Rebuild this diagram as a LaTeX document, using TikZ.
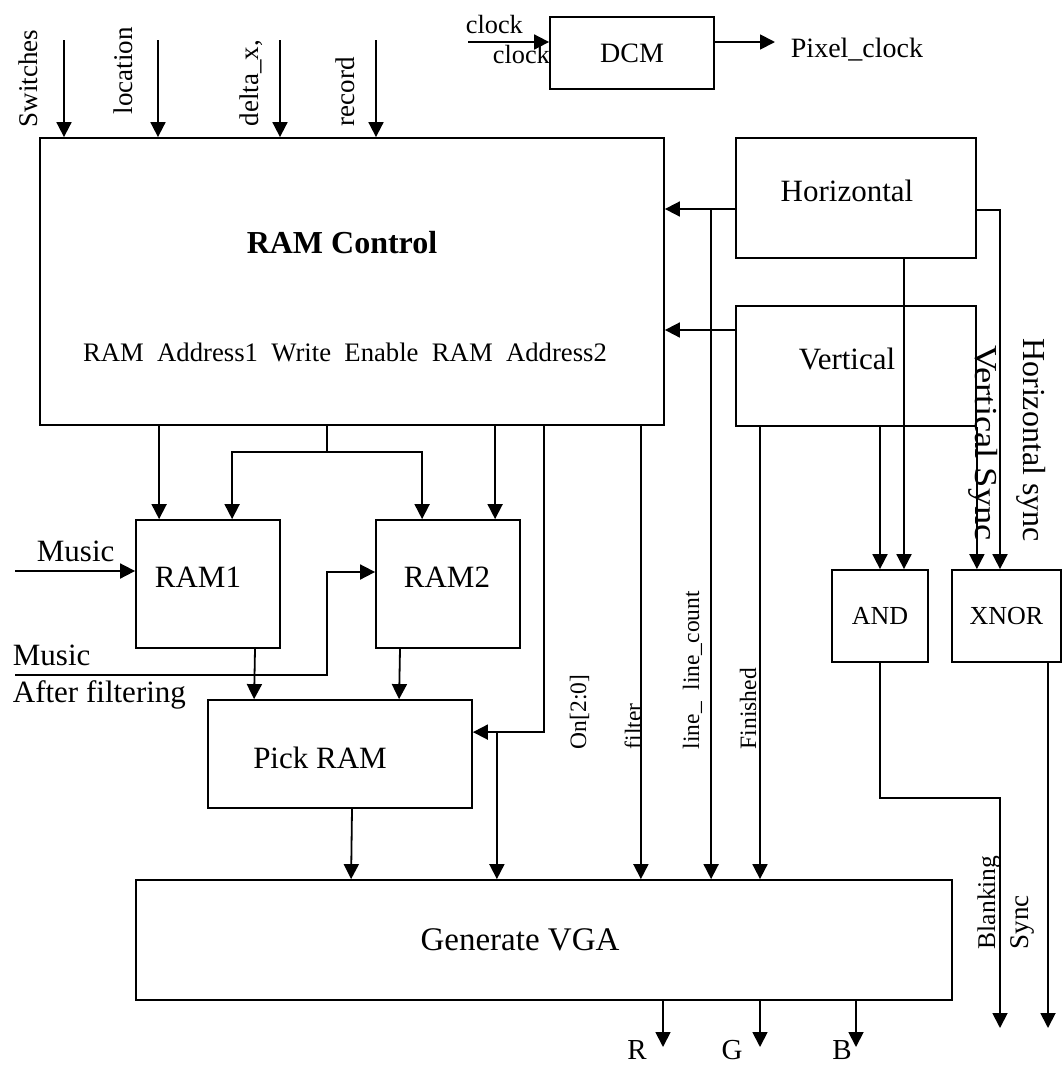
\documentclass[tikz,border=0pt]{standalone}
\usepackage{fontspec}
\setmainfont{Liberation Serif}
\usetikzlibrary{arrows.meta,calc}

\begin{document}
\begin{tikzpicture}[x=1pt,y=-1pt,>={Triangle[length=15pt,width=15pt]},line width=1.8pt,
  blk/.style={draw,line width=1.8pt,inner sep=0pt,font=\fontsize{28}{30}\selectfont},
  lbl/.style={inner sep=0pt,font=\fontsize{31}{33}\selectfont},
  sml/.style={inner sep=0pt,font=\fontsize{27}{29}\selectfont},
  tiny/.style={inner sep=0pt,font=\fontsize{23.5}{25}\selectfont}]
  \useasboundingbox (0,0) rectangle (1063,1066);

  % blocks
  \node[blk,minimum width=624pt,minimum height=287pt] (ramctl) at (352,281.5) {};
  \node[lbl,font=\fontsize{32}{34}\selectfont\bfseries] (ramtitle) at (342,243) {RAM Control};
  \node[sml,font=\fontsize{26.7}{28}\selectfont] (ramports) at (345,352) {RAM\ \ Address1\ \ Write\ \ Enable\ \ RAM\ \ Address2};
  \node[blk,minimum width=164pt,minimum height=72pt] (dcm) at (632,53) {DCM};
  \node[blk,minimum width=240pt,minimum height=120pt] (horiz) at (856,198) {};
  \node[lbl] (horiztxt) at ($(horiz)+(-9,-7)$) {Horizontal};
  \node[blk,minimum width=240pt,minimum height=120pt] (vert) at (856,366) {};
  \node[lbl] (verttxt) at ($(vert)+(-9,-7)$) {Vertical};
  \node[blk,minimum width=144pt,minimum height=128pt] (ram1) at (208,584) {};
  \node[lbl] (ram1txt) at ($(ram1)+(-10,-7)$) {RAM1};
  \node[blk,minimum width=144pt,minimum height=128pt] (ram2) at (448,584) {};
  \node[lbl] (ram2txt) at ($(ram2)+(-1,-7)$) {RAM2};
  \node[blk,minimum width=264pt,minimum height=108pt] (pick) at (340,754) {};
  \node[lbl] (picktxt) at ($(pick)+(-20,4)$) {Pick RAM};
  \node[blk,minimum width=96pt,minimum height=92pt,font=\fontsize{26}{28}\selectfont] (andg) at (880,616) {AND};
  \node[blk,minimum width=109pt,minimum height=92pt,font=\fontsize{26}{28}\selectfont] (xnor) at (1006.5,616) {XNOR};
  \node[blk,minimum width=816pt,minimum height=120pt] (vga) at (544,940) {};
  \node[lbl,font=\fontsize{33}{35}\selectfont] (vgatxt) at ($(vga)+(-24,0)$) {Generate VGA};

  % inputs of RAM Control
  \coordinate (swin) at (64,40);
  \coordinate (locin) at (158,40);
  \coordinate (dxin) at (280,40);
  \coordinate (recin) at (376,40);
  \foreach \p in {swin,locin,dxin,recin}
    \draw[->] (\p) -- (\p |- ramctl.north);
  \node[sml,rotate=90,anchor=base west] (swlbl) at (37,128) {Switches};
  \node[sml,rotate=90,anchor=base west] (loclbl) at (132,115) {location};
  \node[sml,rotate=90,anchor=base west] (dxlbl) at (258,127) {delta\_x,};
  \node[sml,rotate=90,anchor=base west] (reclbl) at (354,127) {record};

  % clock
  \coordinate (clkin) at (468,42);
  \coordinate (pixout) at (775,42);
  \draw[->] (clkin) -- (clkin -| dcm.west);
  \draw[->] (pixout -| dcm.east) -- (pixout);
  \node[sml,font=\fontsize{26.3}{28}\selectfont,anchor=base west] (clklbla) at (465,33) {clock};
  \node[sml,font=\fontsize{26.3}{28}\selectfont,anchor=base west] (clklblb) at (492,63) {clock};
  \node[blk,draw=none,anchor=base west] (pixlbl) at (790,57) {Pixel\_clock};

  % timing into RAM Control and Generate VGA
  \coordinate (hout) at ([yshift=-11pt]horiz.west);
  \coordinate (vout) at ([yshift=36pt]vert.west);
  \coordinate (lcsplit) at ($(hout)+(-24,0)$);
  \coordinate (fin) at ([xshift=-96pt]vert.south);
  \draw[->] (hout) -- (hout -| ramctl.east);
  \draw[->] (vout) -- (vout -| ramctl.east);
  \draw[->] (lcsplit) -- (lcsplit |- vga.north);
  \draw[->] (fin) -- (fin |- vga.north);

  % sync gates
  \coordinate (hsync) at ([yshift=-12pt]horiz.east);
  \draw[->] ([xshift=48pt]horiz.south) -- ([xshift=24pt]andg.north);
  \draw[->] ([xshift=24pt]vert.south) -- (andg.north);
  \draw[->] (vert.south east) -- (vert.south east |- xnor.north);
  \draw[->] (hsync) -| ([xshift=-6.5pt]xnor.north);
  \node[lbl,font=\fontsize{32}{34}\selectfont,rotate=-90] (vslbl) at (983,443) {\scalebox{1.14}[1]{Vertical Sync}};
  \node[lbl,font=\fontsize{32}{34}\selectfont,rotate=-90] (hslbl) at (1031,440) {Horizontal sync};

  \coordinate (blank) at (1000,1028);
  \coordinate (syncout) at (1048,1028);
  \draw[->] (andg.south) -- ++(0,135) -| (blank);
  \draw[->] (syncout |- xnor.south) -- (syncout);
  \node[sml,font=\fontsize{25.5}{27}\selectfont,rotate=90,anchor=base west] (blanklbl) at (995,950) {Blanking};
  \node[sml,rotate=90,anchor=base west] (synclbl) at (1028,950) {Sync};

  % RAM Control outputs
  \coordinate (we) at ($(ramctl.south west)+(288,0)$);
  \coordinate (onsrc) at ($(ramctl.south west)+(505,0)$);
  \coordinate (onsplit) at ($(pick.north east)+(24,33)$);
  \coordinate (filt) at ($(ramctl.south east)+(-24,0)$);
  \draw[->] ($(ramctl.south west)+(120,0)$) -- ($(ram1.north west)+(24,0)$);
  \draw (we) -- ++(0,26) coordinate (wesplit);
  \draw[->] (wesplit) -| ($(ram1.north west)+(97,0)$);
  \draw[->] (wesplit) -| ($(ram2.north west)+(47,0)$);
  \draw[->] ($(ramctl.south west)+(456,0)$) -- ($(ram2.north west)+(120,0)$);
  \draw[->] (onsrc) |- ($(pick.north east)+(0,33)$);
  \draw[->] (onsplit) -- (onsplit |- vga.north);
  \draw[->] (filt) -- (filt |- vga.north);
  \node[tiny,rotate=90,anchor=base west] (onlbl) at (586,750) {On[2:0]};
  \node[tiny,rotate=90,anchor=base west] (filtlbl) at (641,750) {filter};
  \node[tiny,rotate=90,anchor=base west] (lclbl) at (699,750) {line\_\ \ line\_count};
  \node[tiny,rotate=90,anchor=base west] (finlbl) at (756,750) {Finished};

  % music in
  \coordinate (musicin) at (15,571);
  \coordinate (filtin) at (15,675);
  \draw[->] (musicin) -- (musicin -| ram1.west);
  \draw[->] (filtin) -| ($(ram2.west)+(-48,-12)$) -- ($(ram2.west)+(0,-12)$);
  \node[lbl,anchor=base west] (muslbl) at (36,561) {Music};
  \node[lbl,anchor=base west] (fmuslbl) at (12,665) {Music};
  \node[lbl,anchor=base west] (aftlbl) at (12,702) {After filtering};

  % RAMs to Pick RAM to Generate VGA
  \draw[->] ($(ram1.south)+(47,0)$) -- ($(pick.north west)+(47,0)$);
  \draw[->] ($(ram2.south)+(-48,0)$) -- ($(pick.north west)+(192,0)$);
  \draw[->] ($(pick.south)+(12,0)$) -- ($(vga.north west)+(216,0)$);

  % colour outputs
  \coordinate (rout) at (663,1047);
  \coordinate (gout) at (760,1047);
  \coordinate (bout) at (856,1047);
  \foreach \p in {rout,gout,bout}
    \draw[->] (\p |- vga.south) -- (\p);
  \node[lbl,font=\fontsize{29}{30}\selectfont,anchor=base] (rlbl) at (637,1059) {R};
  \node[lbl,font=\fontsize{29}{30}\selectfont,anchor=base] (glbl) at (732,1059) {G};
  \node[lbl,font=\fontsize{29}{30}\selectfont,anchor=base] (blbl) at (842,1059) {B};
\end{tikzpicture}
\end{document}
